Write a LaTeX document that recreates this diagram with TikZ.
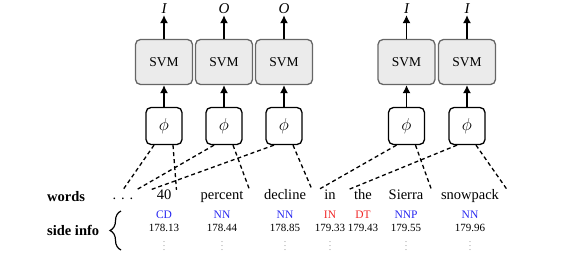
\documentclass[tikz,border=0pt]{standalone}
\usepackage{fontspec}
\setmainfont{Liberation Serif}
\usetikzlibrary{arrows.meta,decorations.pathreplacing,calc}

\definecolor{tagblue}{RGB}{40,40,240}
\definecolor{tagred}{RGB}{240,40,40}

\tikzset{
  svm/.style={draw=black!60, fill=black!8, line width=1.3pt, rounded corners=5pt,
    minimum width=57pt, minimum height=45pt, font=\fontsize{13.5}{13.5}\selectfont},
  feat/.style={draw, fill=white, line width=1.3pt, rounded corners=5pt,
    minimum width=36pt, minimum height=37pt, font=\fontsize{16}{16}\selectfont},
  lab/.style={font=\fontsize{15}{15}\selectfont\itshape, inner sep=1pt},
  word/.style={font=\fontsize{14.5}{14.5}\selectfont, text height=1.5ex, text depth=.25ex, inner sep=3pt},
  head/.style={font=\fontsize{14.5}{14.5}\selectfont\bfseries, anchor=west, inner sep=1pt},
  tag/.style={font=\fontsize{11.5}{11.5}\selectfont, inner sep=1pt},
  num/.style={font=\fontsize{11}{11}\selectfont, inner sep=1pt},
  more/.style={font=\fontsize{6}{6}\selectfont, inner sep=0pt, anchor=base},
  win/.style={line width=1.3pt, dash pattern=on 4pt off 3pt},
  up/.style={-{Latex[length=8pt,width=8pt]}, line width=1.3pt}
}

\begin{document}
\begin{tikzpicture}[x=1pt, y=-1pt]
  \useasboundingbox (0,0) rectangle (578,252);

  % Les mots
  \node[head] (hw) at (46,197) {words};
  \node[word] (w0) at (123,197) {. . .};
  \node[word] (w1) at (164,197) {40};
  \node[word] (w2) at (222,197) {percent};
  \node[word] (w3) at (285,197) {decline};
  \node[word] (w4) at (330,197) {in};
  \node[word] (w5) at (363,197) {the};
  \node[word] (w6) at (406,197) {Sierra};
  \node[word] (w7) at (470,197) {snowpack};

  % Infos annexes
  \node[head] (hs) at (46,230) {side info};
  \coordinate (bt) at (121,211);
  \coordinate (bb) at (121,250);
  \draw[line width=1.2pt, decorate, decoration={brace, amplitude=11pt}] (bb) -- (bt);

  \node[tag, text=tagblue] (t1) at (164,215) {CD};
  \node[tag, text=tagblue] (t2) at (222,215) {NN};
  \node[tag, text=tagblue] (t3) at (285,215) {NN};
  \node[tag, text=tagred]  (t4) at (330,215) {IN};
  \node[tag, text=tagred]  (t5) at (363,215) {DT};
  \node[tag, text=tagblue] (t6) at (406,215) {NNP};
  \node[tag, text=tagblue] (t7) at (470,215) {NN};

  \node[num] (n1) at (164,228) {178.13};
  \node[num] (n2) at (222,228) {178.44};
  \node[num] (n3) at (285,228) {178.85};
  \node[num] (n4) at (330,228) {179.33};
  \node[num] (n5) at (363,228) {179.43};
  \node[num] (n6) at (406,228) {179.55};
  \node[num] (n7) at (470,228) {179.96};

  \node[more] (m1) at (164,250) {$\vdots$};
  \node[more] (m2) at (222,250) {$\vdots$};
  \node[more] (m3) at (285,250) {$\vdots$};
  \node[more] (m4) at (330,250) {$\vdots$};
  \node[more] (m6) at (406,250) {$\vdots$};
  \node[more] (m7) at (470,250) {$\vdots$};

  % Les features et les SVM
  \node[feat] (f1) at (164,126) {$\phi$};
  \node[feat] (f2) at (224,126) {$\phi$};
  \node[feat] (f3) at (284,126) {$\phi$};
  \node[feat] (f6) at (406.5,126) {$\phi$};
  \node[feat] (f7) at (467,126) {$\phi$};

  \node[svm] (s1) at (164,62) {SVM};
  \node[svm] (s2) at (224,62) {SVM};
  \node[svm] (s3) at (284,62) {SVM};
  \node[svm] (s6) at (406.5,62) {SVM};
  \node[svm] (s7) at (467,62) {SVM};

  \node[lab] (o1) at (164,9) {I};
  \node[lab] (o2) at (224,9) {O};
  \node[lab] (o3) at (284,9) {O};
  \node[lab] (o6) at (406.5,9) {I};
  \node[lab] (o7) at (467,9) {I};

  \draw[up] (f1) -- (s1);
  \draw[up] (f2) -- (s2);
  \draw[up] (f3) -- (s3);
  \draw[up] (f6) -- (s6);
  \draw[up] (f7) -- (s7);
  \draw[up] (s1) -- (o1);
  \draw[up] (s2) -- (o2);
  \draw[up] (s3) -- (o3);
  \draw[up] (s6) -- (o6);
  \draw[up] (s7) -- (o7);

  % Les fenetres (pointilles)
  \draw[win] ($(f1.south)+(-10,0)$) -- (w0.north);
  \draw[win] ($(f1.south)+(9,0)$) -- ($(w1.north east)+(2,0)$);
  \draw[win] ($(f2.south)+(-10,0)$) -- (w0.north east);
  \draw[win] ($(f2.south)+(9,0)$) -- ($(w2.north east)+(3,0)$);
  \draw[win] ($(f3.south)+(-10,0)$) -- ($(w1.north west)+(-3,0)$);
  \draw[win] ($(f3.south)+(9,0)$) -- ($(w3.north east)+(3,0)$);
  \draw[win] ($(f6.south)+(-10,0)$) -- ($(w4.north west)+(-3,0)$);
  \draw[win] ($(f6.south)+(9,0)$) -- ($(w6.north east)+(5,0)$);
  \draw[win] ($(f7.south)+(-10,0)$) -- ($(w5.north west)+(-3,0)$);
  \draw[win] ($(f7.south)+(9,0)$) -- ($(w7.north east)+(5,0)$);
\end{tikzpicture}
\end{document}
